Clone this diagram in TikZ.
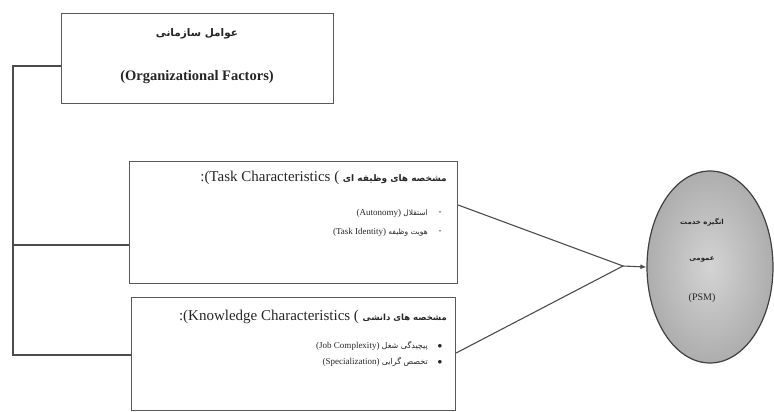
\documentclass[tikz,border=0pt]{standalone}
\usepackage{fontspec}
\setmainfont{Liberation Serif}
\newfontfamily\arabicfont[Script=Arabic]{DejaVu Sans}
\TeXXeTstate=1
\usetikzlibrary{arrows.meta,shapes.geometric}
\tikzset{
  box/.style={draw=black!65, line width=1.1pt, rectangle, anchor=north west, inner sep=0pt},
  link/.style={draw=black!70, line width=1.1pt},
  txt/.style={inner sep=0pt, text=black!85},
  ttl/.style={txt, font=\fontsize{15}{17}\selectfont},
  itm/.style={txt, anchor=east, font=\fontsize{9}{11}\selectfont},
  bulletmark/.style={txt, font=\fontsize{9}{11}\selectfont},
}
\newcommand{\fa}[1]{{\arabicfont\beginR #1\endR}}
\begin{document}
\begin{tikzpicture}[x=1pt,y=-1pt]
\useasboundingbox (0,0) rectangle (774,412);
% boxes
\node[box, minimum width=272pt, minimum height=90pt] (org) at (61,13) {};
\node[box, minimum width=328pt, minimum height=122pt] (task) at (129,161) {};
\node[box, minimum width=324pt, minimum height=113pt] (know) at (131,297) {};
\node[ellipse, draw=black!75, line width=1.2pt, inner color=black!17, outer color=black!32,
      minimum width=126pt, minimum height=192pt] (psm) at (710,267) {};
% organisational box text
\node[txt, font=\fontsize{10.5}{12}\selectfont] (orgfa) at (197,34) {\fa{\bfseries عوامل سازمانی}};
\node[txt, font=\fontsize{14.5}{16}\selectfont\bfseries] (orgen) at (197,77) {(Organizational Factors)};
% task box text
\node[ttl, anchor=east] (tasktitle) at (447,178) {:(Task Characteristics ( {\fontsize{9}{10}\selectfont\fa{\bfseries مشخصه های وظیفه ای}}};
\node[itm] (t1) at (428,213) {(Autonomy) {\fontsize{7.5}{9}\selectfont\fa{استقلال}}};
\node[itm] (t2) at (428,232) {(Task Identity) {\fontsize{7.5}{9}\selectfont\fa{هویت وظیفه}}};
\node[bulletmark] (t1b) at (440,213) {-};
\node[bulletmark] (t2b) at (440,232) {-};
% knowledge box text
\node[ttl, anchor=east] (knowtitle) at (447,317) {:(Knowledge Characteristics ( {\fontsize{8.5}{10}\selectfont\fa{\bfseries مشخصه های دانشی}}};
\node[itm] (k1) at (428,346) {(Job Complexity) {\fontsize{8}{10}\selectfont\fa{پیچیدگی شغل}}};
\node[itm] (k2) at (428,362) {(Specialization) {\fontsize{8}{10}\selectfont\fa{تخصص گرایی}}};
\node[bulletmark] (k1b) at (440,346) {$\bullet$};
\node[bulletmark] (k2b) at (440,362) {$\bullet$};
% ellipse text
\node[txt, font=\fontsize{7}{8}\selectfont] (p1) at (702,222) {\fa{\bfseries انگیزه خدمت}};
\node[txt, font=\fontsize{7}{8}\selectfont] (p2) at (702,260) {\fa{\bfseries عمومی}};
\node[txt, font=\fontsize{10}{12}\selectfont] (p3) at (702,298) {(PSM)};
% bracket on the left
\coordinate (ltop) at (13,66);
\coordinate (lmid) at (13,245);
\coordinate (lbot) at (13,355);
\draw[link] (org.west |- ltop) -- (ltop) -- (lbot) -- (know.west |- lbot);
\draw[link] (lmid) -- (task.west |- lmid);
% converging arrows
\coordinate (join) at (623,266);
\coordinate (ta) at (457,205);
\coordinate (ka) at (455,353);
\draw[link] (task.east |- ta) -- (join);
\draw[link] (know.east |- ka) -- (join);
\draw[link, -{Latex[length=6pt,width=5pt]}] (join) -- (psm.west);
\end{tikzpicture}
\end{document}
